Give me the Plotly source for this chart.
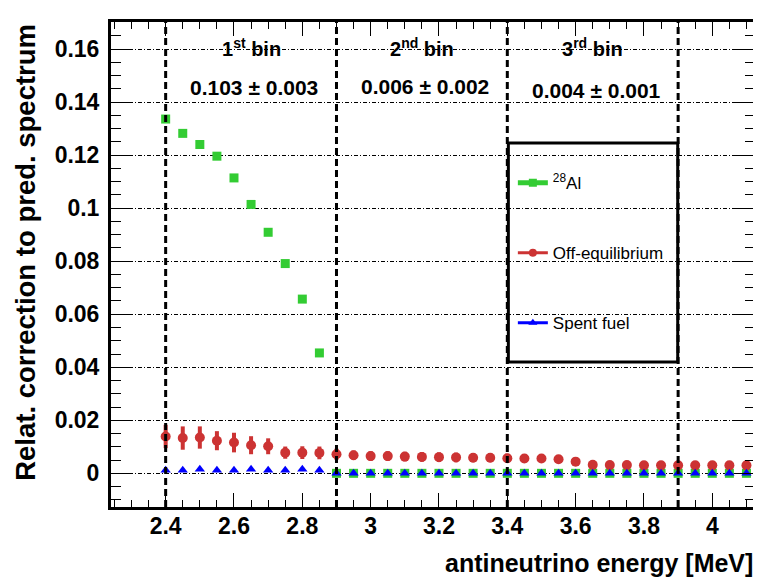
import plotly.graph_objects as go

# ---------------- data ----------------
energy = [2.40, 2.45, 2.50, 2.55, 2.60, 2.65, 2.70, 2.75, 2.80, 2.85,
          2.90, 2.95, 3.00, 3.05, 3.10, 3.15, 3.20, 3.25, 3.30, 3.35,
          3.40, 3.45, 3.50, 3.55, 3.60, 3.65, 3.70, 3.75, 3.80, 3.85,
          3.90, 3.95, 4.00, 4.05, 4.10]

al28 = [0.1336, 0.1282, 0.1240, 0.1196, 0.1114, 0.1014, 0.0909, 0.0791, 0.0657, 0.0454,
        0.0, 0.0, 0.0, 0.0, 0.0, 0.0, 0.0, 0.0, 0.0, 0.0,
        0.0, 0.0, 0.0, 0.0, 0.0, 0.0, 0.0, 0.0, 0.0, 0.0,
        0.0, 0.0, 0.0, 0.0, 0.0]

off_eq = [0.0139, 0.0133, 0.0135, 0.0123, 0.0116, 0.0106, 0.0102, 0.0078, 0.0078, 0.0077,
          0.0072, 0.0068, 0.0065, 0.0065, 0.0063, 0.0062, 0.0061, 0.0060, 0.0059, 0.0059,
          0.0057, 0.0056, 0.0056, 0.0053, 0.0044, 0.0032, 0.0031, 0.0031, 0.0030, 0.0030,
          0.0030, 0.0030, 0.0030, 0.0030, 0.0030]

off_eq_err = [0.0044, 0.0044, 0.0042, 0.0036, 0.0037, 0.0034, 0.0030, 0.0023, 0.0024, 0.0024,
              0.0021, 0.0018, 0.0018, 0.0018, 0.0018, 0.0018, 0.0018, 0.0018, 0.0017, 0.0017,
              0.0017, 0.0016, 0.0012, 0.0010, 0.0008, 0.0006, 0.0006, 0.0006, 0.0006, 0.0006,
              0.0006, 0.0006, 0.0006, 0.0006, 0.0006]

spent_fuel = [0.0012, 0.0012, 0.0015, 0.0012, 0.0012, 0.0015, 0.0012, 0.0012, 0.0015, 0.0012,
              0.0, 0.0, 0.0, 0.0, 0.0, 0.0, 0.0, 0.0, 0.0, 0.0,
              0.0, 0.0, 0.0, 0.0, 0.0, 0.0, 0.0, 0.0, 0.0, 0.0,
              0.0, 0.0, 0.0, 0.0, 0.0]

bin_edges = [2.4, 2.9, 3.4, 3.9]
bin_labels = ["1<sup>st</sup> bin", "2<sup>nd</sup> bin", "3<sup>rd</sup> bin"]
bin_label_x = [2.65, 3.15, 3.65]
bin_results = ["0.103 \u00b1 0.003", "0.006 \u00b1 0.002", "0.004 \u00b1 0.001"]
bin_result_x = [2.66, 3.16, 3.66]
bin_result_y = [0.1454, 0.1458, 0.1445]

y_ticks = [0, 0.02, 0.04, 0.06, 0.08, 0.1, 0.12, 0.14, 0.16]
y_ticklabels = ["0", "0.02", "0.04", "0.06", "0.08", "0.1", "0.12", "0.14", "0.16"]
x_ticks = [2.4, 2.6, 2.8, 3.0, 3.2, 3.4, 3.6, 3.8, 4.0]
x_ticklabels = ["2.4", "2.6", "2.8", "3", "3.2", "3.4", "3.6", "3.8", "4"]

GREEN = "rgb(51,204,51)"
RED = "rgb(204,51,51)"
BLUE = "rgb(0,0,255)"
FONT = "Liberation Sans, Arial, sans-serif"

fig = go.Figure()

# data traces
fig.add_trace(go.Scatter(x=energy, y=al28, mode="markers", showlegend=False,
                         marker=dict(symbol="square", size=9, color=GREEN)))
fig.add_trace(go.Scatter(x=energy, y=off_eq, mode="markers", showlegend=False,
                         marker=dict(symbol="circle", size=10, color=RED),
                         error_y=dict(type="data", array=off_eq_err, color=RED,
                                      thickness=4, width=0)))
fig.add_trace(go.Scatter(x=energy, y=spent_fuel, mode="markers", showlegend=False,
                         marker=dict(symbol="triangle-up", size=9, color=BLUE)))

# legend entries
fig.add_trace(go.Scatter(x=[None], y=[None], mode="lines+markers", name="<sup>28</sup>Al",
                         legendgroup="a", line=dict(color=GREEN, width=5),
                         marker=dict(symbol="square", size=8, color=GREEN)))
fig.add_trace(go.Scatter(x=[None], y=[None], mode="lines+markers", name="Off-equilibrium",
                         legendgroup="b", line=dict(color=RED, width=3),
                         marker=dict(symbol="circle", size=8, color=RED)))
fig.add_trace(go.Scatter(x=[None], y=[None], mode="lines+markers", name="Spent fuel",
                         legendgroup="c", line=dict(color=BLUE, width=3),
                         marker=dict(symbol="triangle-up", size=8, color=BLUE)))

shapes = []
for e in bin_edges:
    shapes.append(dict(type="line", xref="x", yref="paper", x0=e, x1=e, y0=0, y1=1,
                       line=dict(color="black", width=3, dash="7px,4px")))
# legend box
shapes.append(dict(type="rect", xref="paper", yref="paper",
                   x0=0.617, x1=0.880, y0=0.299, y1=0.7505,
                   line=dict(color="black", width=3), fillcolor="rgba(0,0,0,0)"))

annotations = []
for lab, xx in zip(bin_labels, bin_label_x):
    annotations.append(dict(x=xx, y=0.1607, xref="x", yref="y", text=lab, showarrow=False,
                            font=dict(family=FONT, size=20, color="black", weight="bold")))
for lab, xx, yy in zip(bin_results, bin_result_x, bin_result_y):
    annotations.append(dict(x=xx, y=yy, xref="x", yref="y", text=lab, showarrow=False,
                            font=dict(family=FONT, size=21, color="black", weight="bold")))
annotations.append(dict(x=1.0, y=-0.115, xref="paper", yref="paper",
                        text="antineutrino energy [MeV]", showarrow=False,
                        xanchor="right", yanchor="middle",
                        font=dict(family=FONT, size=25, color="black", weight="bold")))
annotations.append(dict(x=-0.133, y=1.0, xref="paper", yref="paper",
                        text="Relat. correction to pred. spectrum", showarrow=False,
                        textangle=-90, xanchor="center", yanchor="top",
                        font=dict(family=FONT, size=27.5, color="black", weight="bold")))

fig.update_layout(
    width=753, height=579,
    margin=dict(l=103, r=3, t=14, b=80),
    paper_bgcolor="white", plot_bgcolor="white",
    shapes=shapes, annotations=annotations,
    legend=dict(x=0.624, y=0.705, xanchor="left", yanchor="top",
                bgcolor="rgba(0,0,0,0)", borderwidth=0,
                font=dict(family=FONT, size=17, color="black"),
                itemwidth=30, tracegroupgap=45, traceorder="grouped"),
    xaxis=dict(range=[2.24, 4.125], tickmode="array", tickvals=x_ticks, ticktext=x_ticklabels,
               ticks="inside", ticklen=14, tickwidth=1, tickcolor="black",
               minor=dict(dtick=0.05, tick0=2.4, ticks="inside", ticklen=7, tickcolor="black", showgrid=False),
               showgrid=False, zeroline=False, showline=True, linewidth=3, linecolor="black",
               mirror="allticks", ticklabelstandoff=-4,
               tickfont=dict(family=FONT, size=23, color="black", weight="bold")),
    yaxis=dict(range=[-0.0127, 0.1702], tickmode="array", tickvals=y_ticks, ticktext=y_ticklabels,
               ticks="inside", ticklen=20, tickwidth=1, tickcolor="black",
               minor=dict(dtick=0.005, tick0=0, ticks="inside", ticklen=10, tickcolor="black", showgrid=False),
               showgrid=True, gridcolor="black", gridwidth=1, griddash="4px,2px,1px,2px",
               zeroline=False, showline=True, linewidth=3, linecolor="black",
               mirror="allticks", ticklabelstandoff=4,
               tickfont=dict(family=FONT, size=23, color="black", weight="bold")),
)

fig.write_html("out.html")
